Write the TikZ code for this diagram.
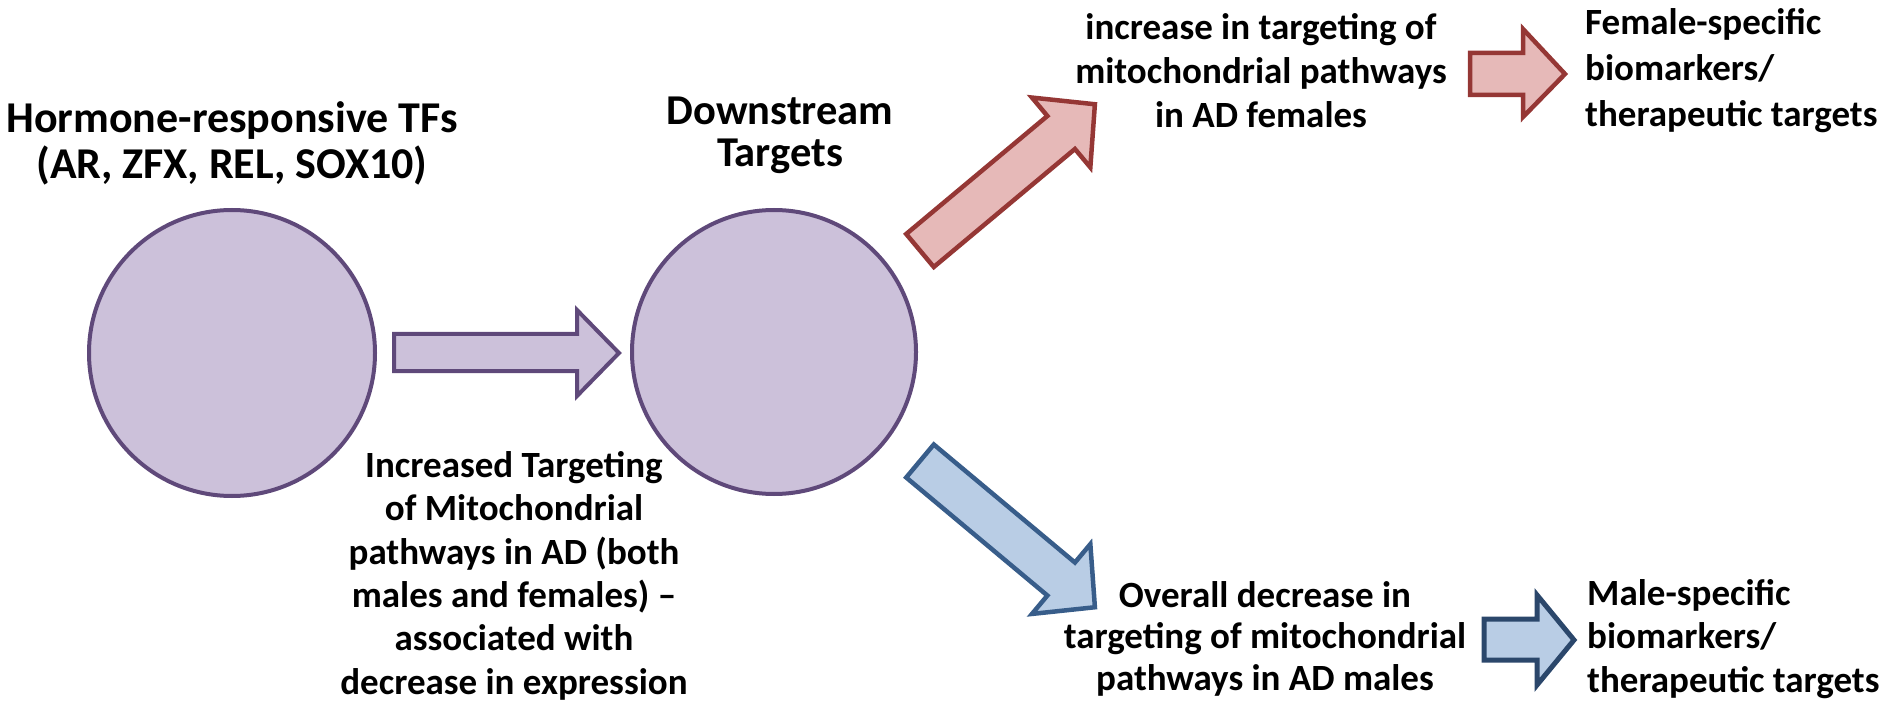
\documentclass[tikz,border=0pt]{standalone}
\usepackage{fontspec}
\setmainfont{Carlito}
\begin{document}
\begin{tikzpicture}[x=1pt,y=-1pt,
  txt/.style={inner sep=0pt, font=\fontsize{37}{43.5}\selectfont\bfseries, text=black},
  purp/.style={draw=purpStroke, fill=purpFill, line width=4pt},
  redar/.style={draw=redStroke, fill=redFill, line width=4.5pt},
  bluear/.style={draw=blueStroke, fill=blueFill, line width=4.5pt},
  bluesm/.style={draw=blueDark, fill=blueFill, line width=5pt}]
\definecolor{purpFill}{HTML}{CCC1DA}
\definecolor{purpStroke}{HTML}{5F497A}
\definecolor{redFill}{HTML}{E6B9B8}
\definecolor{redStroke}{HTML}{953735}
\definecolor{blueFill}{HTML}{B9CDE5}
\definecolor{blueStroke}{HTML}{385D8A}
\definecolor{blueDark}{HTML}{2B476B}
\useasboundingbox (0,0) rectangle (1904,703);
% circles
\node[purp, circle, minimum size=286pt, inner sep=0pt] (c1) at (232,353) {};
\node[purp, circle, minimum size=284pt, inner sep=0pt] (c2) at (774,352) {};
% purple arrow
\draw[purp, line join=miter] (394,334) -- (577,334) -- (577,310) -- (619,353) -- (577,396) -- (577,371) -- (394,371) -- cycle;
% red diagonal arrow
\begin{scope}[shift={(920,250.5)}, rotate=39.9]
\draw[redar, line join=miter] (0,-21.5) -- (184,-21.5) -- (184,-45.5) -- (228,0) -- (184,45.5) -- (184,21.5) -- (0,21.5) -- cycle;
\end{scope}
% blue diagonal arrow
\begin{scope}[shift={(920,461)}, rotate=-39.9]
\draw[bluear, line join=miter] (0,-21.5) -- (184,-21.5) -- (184,-45.5) -- (228,0) -- (184,45.5) -- (184,21.5) -- (0,21.5) -- cycle;
\end{scope}
% small red arrow
\draw[redar, line join=miter] (1470,53) -- (1523,53) -- (1523,29) -- (1565,74) -- (1523,117) -- (1523,95) -- (1470,95) -- cycle;
% small blue arrow
\draw[bluesm, line join=miter] (1484,619) -- (1537,619) -- (1537,595) -- (1574,640) -- (1537,685) -- (1537,660) -- (1484,660) -- cycle;
% texts (anchor=base is the baseline of the last line)
\node[txt, font=\fontsize{44}{46}\selectfont\bfseries, align=center, anchor=base] (title) at (232,179) {Hormone-responsive TFs\\(AR, ZFX, REL, SOX10)};
\node[txt, font=\fontsize{42.5}{42}\selectfont\bfseries, align=center, anchor=base] (down) at (780,167) {Downstream\\Targets};
\node[txt, font=\fontsize{37}{43.3}\selectfont\bfseries, align=center, anchor=base] (mid) at (514,694) {Increased Targeting\\of Mitochondrial\\pathways in AD (both\\males and females) --\\associated with\\decrease in expression};
\node[txt, font=\fontsize{37}{44}\selectfont\bfseries, align=center, anchor=base] (top) at (1261,128) {increase in targeting of\\mitochondrial pathways\\in AD females};
\node[txt, font=\fontsize{37}{41.5}\selectfont\bfseries, align=center, anchor=base] (bot) at (1265,690) {Overall decrease in\\targeting of mitochondrial\\pathways in AD males};
\node[txt, font=\fontsize{37}{46}\selectfont\bfseries, align=left, anchor=base west] (fem) at (1585,127) {Female-specific\\biomarkers/\\therapeutic targets};
\node[txt, font=\fontsize{37}{43.5}\selectfont\bfseries, align=left, anchor=base west] (male) at (1587,692) {Male-specific\\biomarkers/\\therapeutic targets};
\end{tikzpicture}
\end{document}
